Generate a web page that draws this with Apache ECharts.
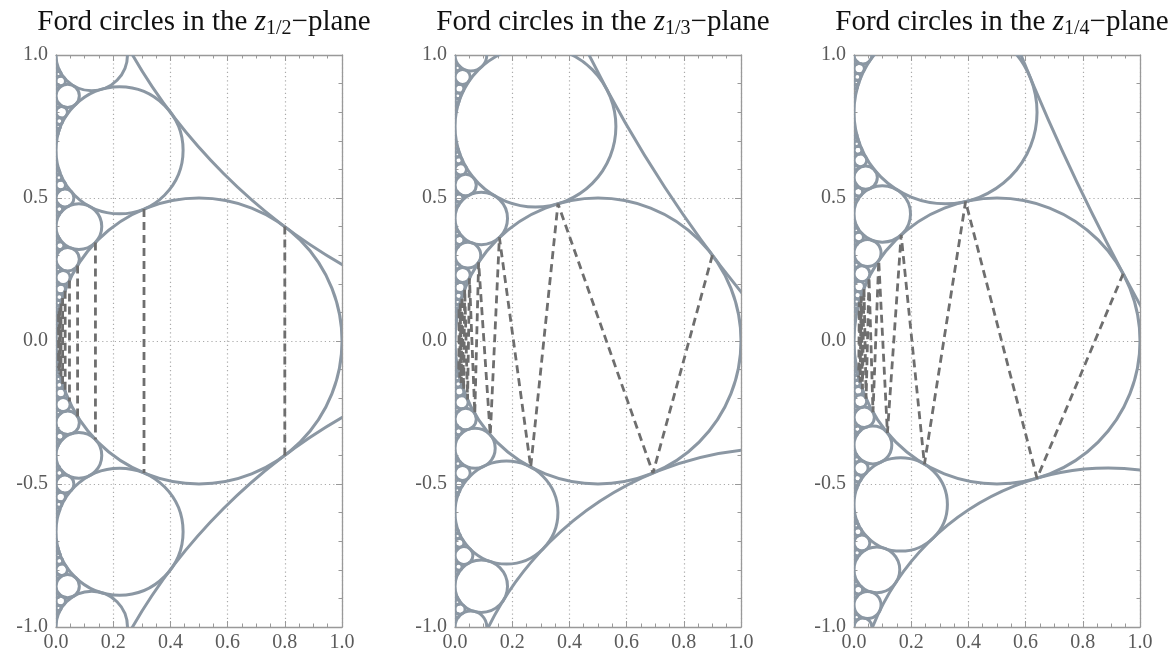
<!DOCTYPE html>
<html>
<head>
<meta charset="utf-8">
<script src="https://cdn.jsdelivr.net/npm/echarts/dist/echarts.min.js"></script>
<style>
html,body{margin:0;padding:0;background:#ffffff;}
#chart{width:1172px;height:655px;}
</style>
</head>
<body>
<div id="chart"></div>
<script>
// ------------------------------------------------------------------ data
const panelSubscripts = ['1/2', '1/3', '1/4'];
const xTicks = [0, 0.2, 0.4, 0.6, 0.8, 1.0];
const yTicks = [-1, -0.5, 0, 0.5, 1];

// Ford circles, each [height where the circle touches the x = 0 line, radius]
const circlesZ12 = [
  [2, 2], [-2, 2], [0, 0.5], [0.6667, 0.2222], [-0.6667, 0.2222], [1, 0.125], [-1, 0.125],
  [0.4, 0.08], [-0.4, 0.08], [0.2857, 0.0408], [-0.2857, 0.0408], [0.8571, 0.0408], [-0.8571, 0.0408],
  [0.5, 0.0313], [-0.5, 0.0313], [0.2222, 0.0247], [-0.2222, 0.0247], [0.8, 0.02], [-0.8, 0.02],
  [0.1818, 0.0165], [-0.1818, 0.0165], [0.5455, 0.0165], [-0.5455, 0.0165], [0.9091, 0.0165], [-0.9091, 0.0165],
  [0.3333, 0.0139], [-0.3333, 0.0139], [0.1538, 0.0118], [-0.1538, 0.0118], [0.4615, 0.0118], [-0.4615, 0.0118],
  [0.7692, 0.0118], [-0.7692, 0.0118], [0.5714, 0.0102], [-0.5714, 0.0102], [0.1333, 0.0089], [-0.1333, 0.0089],
  [0.9333, 0.0089], [-0.9333, 0.0089], [0.25, 0.0078], [-0.25, 0.0078], [0.75, 0.0078], [-0.75, 0.0078],
  [0.1176, 0.0069], [-0.1176, 0.0069], [0.3529, 0.0069], [-0.3529, 0.0069], [0.5882, 0.0069], [-0.5882, 0.0069],
  [0.8235, 0.0069], [-0.8235, 0.0069], [0.4444, 0.0062], [-0.4444, 0.0062], [0.8889, 0.0062], [-0.8889, 0.0062],
  [0.1053, 0.0055], [-0.1053, 0.0055], [0.3158, 0.0055], [-0.3158, 0.0055], [0.5263, 0.0055], [-0.5263, 0.0055],
  [0.7368, 0.0055], [-0.7368, 0.0055], [0.9474, 0.0055], [-0.9474, 0.0055], [0.2, 0.005], [-0.2, 0.005],
  [0.6, 0.005], [-0.6, 0.005], [0.0952, 0.0045], [-0.0952, 0.0045], [0.4762, 0.0045], [-0.4762, 0.0045],
  [0.3636, 0.0041], [-0.3636, 0.0041], [0.7273, 0.0041], [-0.7273, 0.0041]
];
const circlesZ13 = [
  [3, 4.5], [-1.5, 1.125], [0, 0.5], [0.75, 0.2813], [-0.6, 0.18], [0.4286, 0.0918], [-0.8571, 0.0918],
  [-0.375, 0.0703], [1, 0.0556], [-1, 0.0556], [0.3, 0.045], [0.5455, 0.0372], [-0.2727, 0.0372],
  [-0.75, 0.0313], [0.2308, 0.0266], [-0.4615, 0.0266], [0.9231, 0.0266], [-0.2143, 0.023], [0.6, 0.02],
  [0.1875, 0.0176], [-0.9375, 0.0176], [0.3529, 0.0156], [-0.1765, 0.0156], [0.8824, 0.0156], [-0.7059, 0.0156],
  [0.5, 0.0139], [-0.5, 0.0139], [0.1579, 0.0125], [-0.3158, 0.0125], [0.6316, 0.0125], [-0.7895, 0.0125],
  [-0.15, 0.0113], [-0.4286, 0.0102], [0.8571, 0.0102], [0.1364, 0.0093], [-0.6818, 0.0093], [0.9545, 0.0093],
  [0.2609, 0.0085], [-0.1304, 0.0085], [0.6522, 0.0085], [-0.5217, 0.0085], [-0.913, 0.0085], [0.375, 0.0078],
  [0.12, 0.0072], [-0.24, 0.0072], [0.48, 0.0072], [0.84, 0.0072], [-0.96, 0.0072], [-0.1154, 0.0067],
  [0.5769, 0.0067], [-0.8077, 0.0067], [0.3333, 0.0062], [-0.3333, 0.0062], [0.6667, 0.0062], [-0.6667, 0.0062],
  [0.1071, 0.0057], [-0.5357, 0.0057], [0.2069, 0.0054], [-0.1034, 0.0054], [0.5172, 0.0054], [-0.4138, 0.0054],
  [0.8276, 0.0054], [-0.7241, 0.0054], [-0.3, 0.005], [0.9, 0.005], [-0.9, 0.005]
];
const circlesZ14 = [
  [4, 8], [-1.3333, 0.8889], [0, 0.5], [0.8, 0.32], [-0.5714, 0.1633], [0.4444, 0.0988], [-0.8, 0.08],
  [-0.3636, 0.0661], [0.3077, 0.0473], [-0.9231, 0.0473], [0.5714, 0.0408], [-0.2667, 0.0356], [1, 0.0313],
  [-1, 0.0313], [0.2353, 0.0277], [-0.7059, 0.0277], [-0.4444, 0.0247], [0.6316, 0.0222], [-0.2105, 0.0222],
  [0.1905, 0.0181], [0.9524, 0.0181], [0.3636, 0.0165], [0.5217, 0.0151], [-0.1739, 0.0151], [-0.8696, 0.0151],
  [0.6667, 0.0139], [-0.6667, 0.0139], [0.16, 0.0128], [-0.48, 0.0128], [-0.3077, 0.0118], [0.9231, 0.0118],
  [-0.1481, 0.011], [-0.7407, 0.011], [0.1379, 0.0095], [-0.4138, 0.0095], [0.6897, 0.0095], [-0.9655, 0.0095],
  [0.2667, 0.0089], [0.3871, 0.0083], [-0.129, 0.0083], [-0.6452, 0.0083], [0.9032, 0.0083], [0.5, 0.0078],
  [-0.5, 0.0078], [0.1212, 0.0073], [0.6061, 0.0073], [-0.8485, 0.0073], [-0.2353, 0.0069], [0.7059, 0.0069],
  [0.3429, 0.0065], [-0.1143, 0.0065], [0.8889, 0.0062], [-0.8889, 0.0062], [0.1081, 0.0058], [-0.3243, 0.0058],
  [0.5405, 0.0058], [-0.7568, 0.0058], [0.973, 0.0058], [0.2105, 0.0055], [-0.6316, 0.0055], [-0.1026, 0.0053],
  [0.7179, 0.0053], [-0.5128, 0.0053], [0.4, 0.005], [-0.4, 0.005]
];

// dashed chords in the z_{1/2} plane: [x, upper y, lower y]
const chordsZ12 = [
  [0.8, 0.4, -0.4], [0.3077, 0.4615, -0.4615], [0.1379, 0.3448, -0.3448], [0.0755, 0.2642, -0.2642],
  [0.0471, 0.2118, -0.2118], [0.032, 0.176, -0.176], [0.0231, 0.1503, -0.1503], [0.0175, 0.131, -0.131],
  [0.0137, 0.116, -0.116], [0.011, 0.1041, -0.1041], [0.009, 0.0944, -0.0944]
];
// dashed zigzags: [x, y]
const zigzagZ13 = [
  [0.9, 0.3], [0.6923, -0.4615], [0.36, 0.48], [0.2647, -0.4412], [0.1552, 0.3621], [0.1233, -0.3288],
  [0.0826, 0.2752], [0.0692, -0.2538], [0.0506, 0.2191], [0.0439, -0.2049], [0.034, 0.1811], [0.0302, -0.1711],
  [0.0243, 0.1541], [0.022, -0.1467], [0.0183, 0.1339], [0.0167, -0.1283], [0.0142, 0.1183], [0.0131, -0.1139]
];
const zigzagZ14 = [
  [0.9412, 0.2353], [0.64, -0.48], [0.3902, 0.4878], [0.2462, -0.4308], [0.1649, 0.3711], [0.1168, -0.3212],
  [0.0865, 0.2811], [0.0664, -0.249], [0.0525, 0.223], [0.0424, -0.2016], [0.035, 0.1838], [0.0294, -0.1688],
  [0.025, 0.156], [0.0215, -0.145], [0.0187, 0.1354], [0.0164, -0.1269]
];

// ------------------------------------------------------------------ style / layout
const CIRCLE = '#8b97a3';
const DASH = '#6e6e6e';
const FRAME = '#999999';
const LABEL = '#5a5a5a';
const GRIDLINE = '#aaaaaa';
const SERIF = "'Liberation Serif', 'DejaVu Serif', serif";
const gridLefts = [56, 455, 854];
const GW = 286, GT = 55, GH = 572;

const grids = gridLefts.map(l => ({left: l, top: GT, width: GW, height: GH, containLabel: false, outerBoundsMode: 'none'}));

function xAxis(i, top) {
  return {
    type: 'value', gridIndex: i, position: top ? 'top' : 'bottom',
    min: xTicks[0], max: xTicks[xTicks.length - 1], interval: xTicks[1] - xTicks[0],
    axisLine: {show: true, onZero: false, lineStyle: {color: FRAME, width: 1.3}},
    axisTick: {show: true, inside: true, length: 6, lineStyle: {color: FRAME, width: 1}},
    minorTick: {show: true, splitNumber: 4, length: 3.5, lineStyle: {color: FRAME, width: 1}},
    axisLabel: {show: !top, margin: 6, color: LABEL, fontFamily: SERIF, fontSize: 20,
      formatter: v => v.toFixed(1)},
    splitLine: {show: !top, lineStyle: {color: GRIDLINE, width: 1.2, type: [1.2, 3]}},
    minorSplitLine: {show: false}
  };
}
function yAxis(i, right) {
  return {
    type: 'value', gridIndex: i, position: right ? 'right' : 'left',
    min: yTicks[0], max: yTicks[yTicks.length - 1], interval: yTicks[1] - yTicks[0],
    axisLine: {show: true, onZero: false, lineStyle: {color: FRAME, width: 1.3}},
    axisTick: {show: true, inside: true, length: 6, lineStyle: {color: FRAME, width: 1}},
    minorTick: {show: true, splitNumber: 5, length: 3.5, lineStyle: {color: FRAME, width: 1}},
    axisLabel: {show: !right, margin: 8, color: LABEL, fontFamily: SERIF, fontSize: 20,
      formatter: v => v.toFixed(1)},
    splitLine: {show: !right, lineStyle: {color: GRIDLINE, width: 1.2, type: [1.2, 3]}},
    minorSplitLine: {show: false}
  };
}

const xAxes = [], yAxes = [];
for (let i = 0; i < 3; i++) {
  xAxes.push(xAxis(i, false), xAxis(i, true));
  yAxes.push(yAxis(i, false), yAxis(i, true));
}

const circleSets = [circlesZ12, circlesZ13, circlesZ14];
const series = [];
circleSets.forEach((set, i) => {
  series.push({
    type: 'custom', xAxisIndex: 2 * i, yAxisIndex: 2 * i, clip: true, silent: true, z: 3,
    data: set.map(c => [c[1], c[0], c[1]]),
    renderItem: (params, api) => {
      const p = api.coord([api.value(0), api.value(1)]);
      const s = api.size([api.value(2), api.value(2)]);
      return {type: 'circle', shape: {cx: p[0], cy: p[1], r: s[0]},
        style: {fill: 'none', stroke: CIRCLE, lineWidth: 3}};
    }
  });
});
series.push({
  type: 'custom', xAxisIndex: 0, yAxisIndex: 0, clip: true, silent: true, z: 4,
  data: chordsZ12,
  renderItem: (params, api) => {
    const a = api.coord([api.value(0), api.value(1)]);
    const b = api.coord([api.value(0), api.value(2)]);
    return {type: 'line', shape: {x1: a[0], y1: a[1], x2: b[0], y2: b[1]},
      style: {stroke: DASH, lineWidth: 2.8, lineDash: [8, 5]}};
  }
});
[zigzagZ13, zigzagZ14].forEach((pts, j) => {
  const i = j + 1;
  series.push({
    type: 'line', xAxisIndex: 2 * i, yAxisIndex: 2 * i, data: pts, showSymbol: false, symbol: 'none',
    clip: true, silent: true, z: 4,
    lineStyle: {color: DASH, width: 2.8, type: [8, 5]}
  });
});

const titles = panelSubscripts.map((s, i) => ({
  text: '{a|Ford circles in the }{z|z}{s|' + s + '}{a|\u2212plane}',
  left: gridLefts[i] + GW / 2, top: 0, textAlign: 'center',
  textStyle: {
    fontWeight: 'normal',
    rich: {
      a: {fontFamily: SERIF, fontSize: 29, fontWeight: 'normal', color: '#111', lineHeight: 34},
      z: {fontFamily: SERIF, fontSize: 29, fontWeight: 'normal', fontStyle: 'italic', color: '#111', lineHeight: 34},
      s: {fontFamily: SERIF, fontSize: 20, fontWeight: 'normal', color: '#111', lineHeight: 15, verticalAlign: 'bottom'}
    }
  }
}));

const chart = echarts.init(document.getElementById('chart'), null, {renderer: 'canvas'});
chart.setOption({
  animation: false,
  backgroundColor: '#ffffff',
  title: titles,
  grid: grids,
  xAxis: xAxes,
  yAxis: yAxes,
  series: series
});
</script>
</body>
</html>
